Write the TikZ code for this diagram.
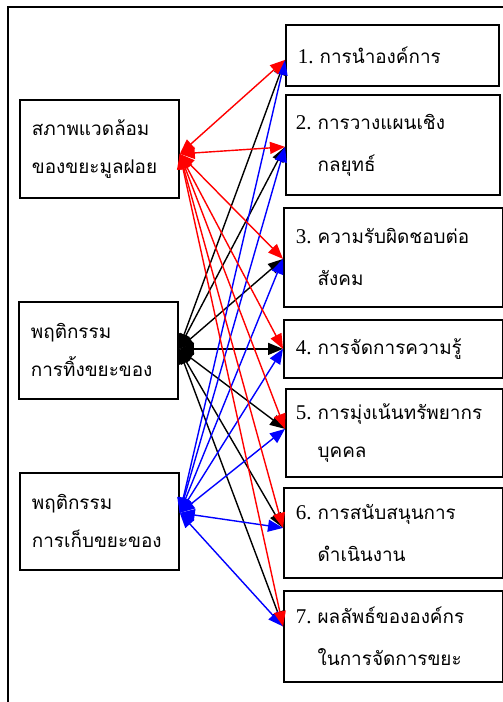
\documentclass[tikz,border=0pt]{standalone}
\usepackage{fontspec}
\setmainfont{Liberation Serif}
\newfontfamily\thai[Script=Thai,Scale=0.9]{Loma}
\newcommand\itemno[1]{#1.\hspace{6pt}}
\usetikzlibrary{arrows.meta}
\begin{document}
\begin{tikzpicture}[x=1pt,y=-1pt,
  box/.style={draw,line width=1.8pt,anchor=north west,inner xsep=12pt,inner ysep=0pt,
    align=left,font=\fontsize{21}{42}\selectfont},
  lbox/.style={box,font=\fontsize{21}{38}\selectfont,minimum width=159pt,text width=135pt},
  link/.style={line width=1.4pt,{Triangle[length=15pt,width=12pt]}-{Triangle[length=15pt,width=12pt]}}]
\useasboundingbox (0,0) rectangle (503,702);
\draw[line width=1.8pt] (503,7) -- (8,7) -- (8,702);
% left boxes
\node[lbox,minimum height=98pt] (l1) at (19,99) {\thai สภาพแวดล้อม\\\thai ของขยะมูลฝอย};
\node[lbox,minimum height=97pt] (l2) at (18,301) {\thai พฤติกรรม\\\thai การทิ้งขยะของ};
\node[lbox,minimum height=97pt] (l3) at (19,472) {\thai พฤติกรรม\\\thai การเก็บขยะของ};
% right boxes
\node[box,minimum width=213pt,minimum height=61pt,text width=189pt] (r1) at (285,24) {\itemno{1}{\thai การนำองค์การ}};
\node[box,minimum width=214pt,minimum height=100pt,text width=194pt,inner xsep=10pt] (r2) at (285,94) {\itemno{2}{\thai การวางแผนเชิง}\\\hphantom{\itemno{2}}{\thai กลยุทธ์}};
\node[box,minimum width=219pt,minimum height=99pt,text width=195pt] (r3) at (283,207) {\itemno{3}{\thai ความรับผิดชอบต่อ}\\\hphantom{\itemno{3}}{\thai สังคม}};
\node[box,minimum width=219pt,minimum height=58pt,text width=195pt] (r4) at (283,319) {\itemno{4}{\thai การจัดการความรู้}};
\node[box,minimum width=217pt,minimum height=88pt,text width=197pt,inner xsep=10pt,font=\fontsize{21}{38}\selectfont] (r5) at (285,388) {\itemno{5}{\thai การมุ่งเน้นทรัพยากร}\\\hphantom{\itemno{5}}{\thai บุคคล}};
\node[box,minimum width=219pt,minimum height=90pt,text width=195pt] (r6) at (283,487) {\itemno{6}{\thai การสนับสนุนการ}\\\hphantom{\itemno{6}}{\thai ดำเนินงาน}};
\node[box,minimum width=219pt,minimum height=91pt,text width=195pt] (r7) at (283,590) {\itemno{7}{\thai ผลลัพธ์ขององค์กร}\\\hphantom{\itemno{7}}{\thai ในการจัดการขยะ}};
% end points
\coordinate (s1) at ([yshift=-5pt]l1.east);
\coordinate (s2) at ([yshift=1.5pt]l2.east);
\coordinate (s3) at ([yshift=8.5pt]l3.east);
\coordinate (t1) at ([yshift=-4.5pt]r1.west);
\coordinate (t2) at ([yshift=-2pt]r2.west);
\coordinate (t3) at ([yshift=-1.5pt]r3.west);
\coordinate (t4) at (r4.west);
\coordinate (t5) at ([yshift=4pt]r5.west);
\coordinate (t6) at ([yshift=5pt]r6.west);
\coordinate (t7) at ([yshift=10pt]r7.west);
% connectors
\foreach \t in {1,...,7} {\draw[link,black] (s2) -- (t\t);}
\foreach \t in {1,...,7} {\draw[link,blue] (s3) -- (t\t);}
\foreach \t in {1,...,7} {\draw[link,red] (s1) -- (t\t);}
\end{tikzpicture}
\end{document}
